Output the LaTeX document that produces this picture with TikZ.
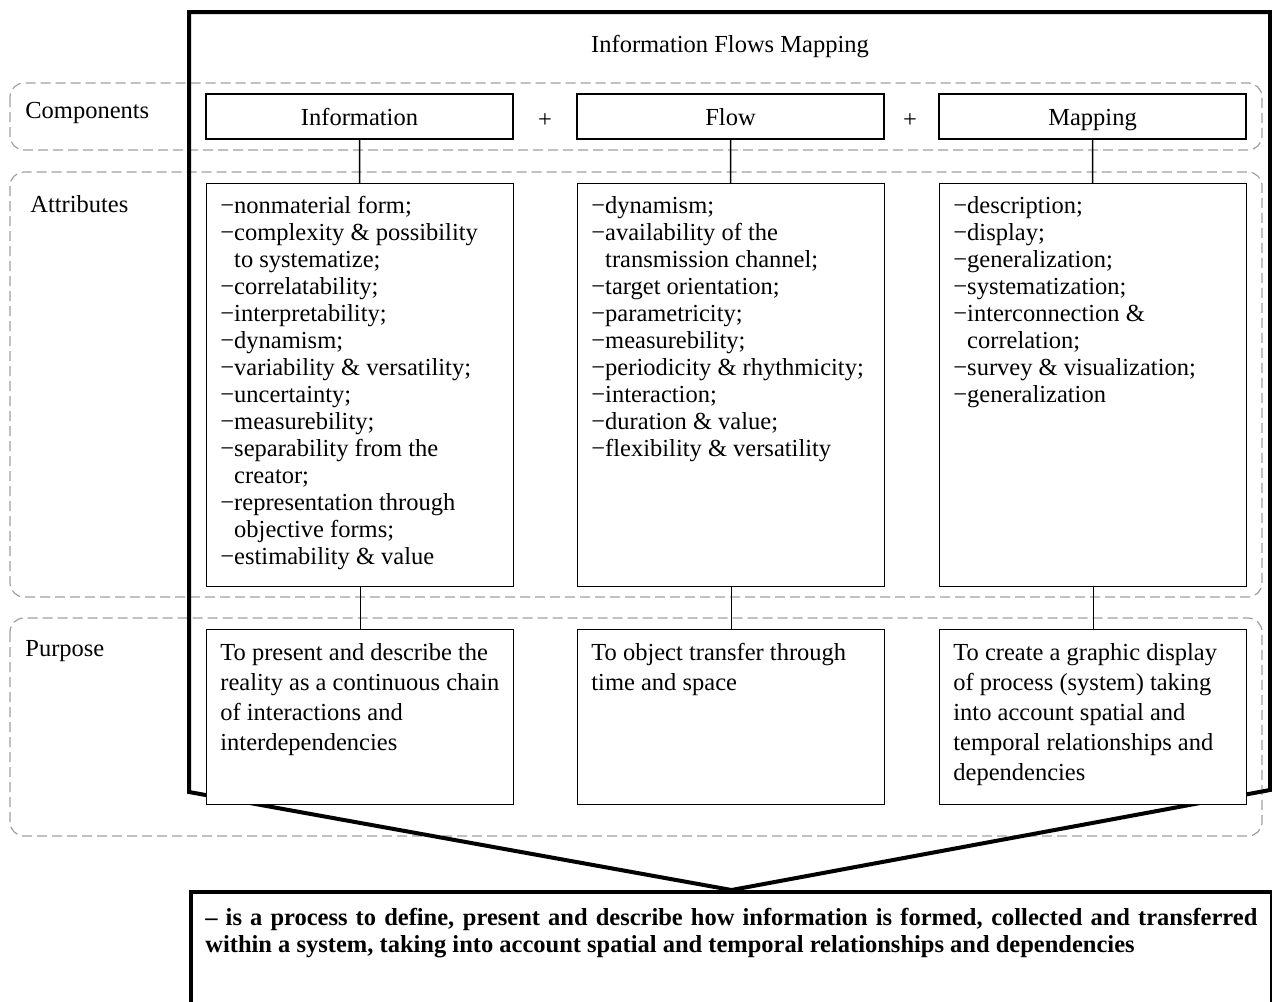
\documentclass[tikz,border=0pt]{standalone}
\usepackage{fontspec}
\setmainfont{Liberation Serif}
\usetikzlibrary{positioning,calc}
\tikzstyle{band}=[draw=gray!75,line width=0.6pt,dash pattern=on 5pt off 2.5pt,rounded corners=7pt]
\tikzstyle{frame}=[draw,line width=2pt]
\tikzstyle{cbox}=[draw,fill=white,line width=0.7pt,inner sep=0pt,minimum width=153.5pt,minimum height=22.5pt,text height=9.5pt,text depth=1pt,font=\fontsize{12.25}{13.5}\selectfont]
\tikzstyle{abox}=[draw,fill=white,line width=0.7pt,inner sep=0pt,anchor=north west,minimum width=153.5pt,minimum height=201.5pt]
\tikzstyle{pbox}=[abox,minimum height=87.5pt]
\tikzstyle{txt}=[inner sep=0pt,font=\fontsize{12.25}{13.5}\selectfont]
\tikzstyle{lst}=[txt,anchor=north west,align=left]
\tikzstyle{ptxt}=[lst,font=\fontsize{12.25}{15}\selectfont]
\newcommand{\hng}{\hphantom{−}}

\begin{document}
\begin{tikzpicture}[x=0.5pt,y=-0.5pt]
\useasboundingbox (0,0) rectangle (1272,1001);
\draw[band] (10,83) rectangle (1262,150);
\draw[band] (10,172) rectangle (1262,597);
\draw[band] (10,618) rectangle (1262,836);
\node[draw,line width=2pt,anchor=north west,inner sep=0pt,minimum width=540.5pt,minimum height=75pt] (def) at (189,890) {};
\draw[frame] (189,792) |- (1270,12) -- (1270,790) -- (def.north) -- cycle;
\node[txt,anchor=base] (title) at (730,52) {Information Flows Mapping};
\node[txt,anchor=base west] (lcomp) at (25,118) {Components};
\node[txt,anchor=base west] (lattr) at (30,212) {Attributes};
\node[txt,anchor=base west] (lpurp) at (25,656) {Purpose};
\node[cbox] (compI) at (359.5,116.5) {Information};
\node[cbox] (compF) at (730.5,116.5) {Flow};
\node[cbox] (compM) at (1092.5,116.5) {Mapping};
\node[txt] (plusA) at (545,121) {+};
\node[txt] (plusB) at (910,121) {+};
\node[abox] (attI) at (206,183) {};
\node[abox] (attF) at (577,183) {};
\node[abox] (attM) at (939,183) {};
\node[pbox] (purI) at (206,629) {};
\node[pbox] (purF) at (577,629) {};
\node[pbox] (purM) at (939,629) {};
\foreach \c in {I,F,M}{
  \draw[line width=0.7pt] (comp\c) -- (att\c);
  \draw[line width=0.7pt] (att\c) -- (pur\c);
}
\node[lst] at ($(attI.north west)+(7pt,-6.5pt)$) {−nonmaterial form;\\
  −complexity \& possibility\\ \hng to systematize;\\
  −correlatability;\\ −interpretability;\\ −dynamism;\\
  −variability \& versatility;\\ −uncertainty;\\ −measurebility;\\
  −separability from the\\ \hng creator;\\
  −representation through\\ \hng objective forms;\\
  −estimability \& value};
\node[lst] at ($(attF.north west)+(7pt,-6.5pt)$) {−dynamism;\\
  −availability of the\\ \hng transmission channel;\\
  −target orientation;\\ −parametricity;\\ −measurebility;\\
  −periodicity \& rhythmicity;\\ −interaction;\\
  −duration \& value;\\ −flexibility \& versatility};
\node[lst] at ($(attM.north west)+(7pt,-6.5pt)$) {−description;\\ −display;\\
  −generalization;\\ −systematization;\\
  −interconnection \&\\ \hng correlation;\\
  −survey \& visualization;\\ −generalization};
\node[ptxt] at ($(purI.north west)+(7pt,-7pt)$) {To present and describe the\\
  reality as a continuous chain\\ of interactions and\\ interdependencies};
\node[ptxt] at ($(purF.north west)+(7pt,-7pt)$) {To object transfer through\\ time and space};
\node[ptxt] at ($(purM.north west)+(7pt,-7pt)$) {To create a graphic display\\
  of process (system) taking\\ into account spatial and\\
  temporal relationships and\\ dependencies};
\node[txt,anchor=north west,text width=526pt,align=justify,font=\bfseries\fontsize{12.25}{13.5}\selectfont]
  at ($(def.north west)+(8pt,-9pt)$) {– is a process to define, present and describe how information is formed, collected and transferred\linebreak
  within a system, taking into account spatial and temporal relationships and dependencies};
\end{tikzpicture}
\end{document}
